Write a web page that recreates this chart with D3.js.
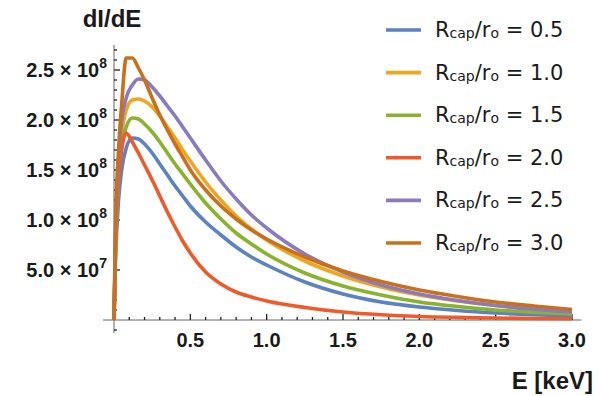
<!DOCTYPE html>
<html lang="en">
  <head>
    <meta charset="utf-8">
    <title>dI/dE spectra</title>
    <script src="https://d3js.org/d3.v7.min.js"></script>
    <style>
      body { margin: 0; background: #fff; }
      text { font-family: "Liberation Sans", Arial, sans-serif; fill: #1a1a1a; }
    </style>
  </head>
  <body>
    <div id="chart"></div>
    <script type="text/javascript">
      // energies in keV
      var energies = [0, 0.01, 0.03, 0.05, 0.08, 0.12, 0.16, 0.2, 0.25, 0.3, 0.35, 0.4, 0.45, 0.5, 0.6, 0.7, 0.8, 0.9, 1.0, 1.25, 1.5, 1.75, 2.0, 2.25, 2.5, 2.75, 3.0];

      // dI/dE values in units of 1e6
      var r05 = [0, 60, 120, 150, 172, 182, 181, 176, 167, 156, 145, 134, 124, 114, 98, 85, 73, 63, 55, 38, 26, 18, 13, 9.5, 7, 5.3, 4];
      var r10 = [0, 75, 150, 185, 210, 220, 221, 219, 213, 204, 193, 182, 170, 159, 138, 120, 104, 91, 80, 59, 44, 33, 25, 19, 14.5, 11, 8.5];
      var r15 = [0, 70, 140, 172, 193, 202, 201, 196, 188, 178, 167, 156, 146, 136, 117, 101, 87, 76, 66, 47, 34, 25, 18, 13.5, 10, 7.8, 6];
      var r20 = [0, 80, 140, 170, 187, 178, 167, 155, 140, 124, 108, 93, 79, 67, 48, 36, 28, 23, 19, 12.5, 8, 5.2, 3.5, 2.6, 2, 1.5, 1.2];
      var r25 = [0, 80, 160, 198, 222, 235, 241, 240, 233, 224, 214, 204, 193, 182, 160, 139, 121, 105, 92, 66, 48, 35, 26, 19.5, 14.5, 10.8, 8];
      var r30 = [0, 95, 170, 215, 262, 262, 252, 240, 222, 205, 190, 176, 163, 150, 130, 114, 101, 90, 81, 63, 49, 38.5, 30, 23.5, 18, 14, 10.5];

      var seriesLabels = ["0.5", "1.0", "1.5", "2.0", "2.5", "3.0"];
      var seriesValues = [r05, r10, r15, r20, r25, r30];
      var colors = ["#5b82c2", "#f0a51f", "#8ab32c", "#f05a2b", "#8a7bc0", "#c8701c"];

      var xMajor = [0.5, 1.0, 1.5, 2.0, 2.5, 3.0];
      var yMajor = [50, 100, 150, 200, 250];   // 1e6 units
      var yLabels = [["5.0", "7"], ["1.0", "8"], ["1.5", "8"], ["2.0", "8"], ["2.5", "8"]];

      var svg = d3.select("#chart").append("svg")
        .attr("width", 604)
        .attr("height", 396);

      // scales
      var xScale = d3.scaleLinear().domain([0, 3]).range([114, 572]);
      var yScale = d3.scaleLinear().domain([0, 250]).range([320, 70]);

      // axis lines (extend a bit past the data range like Mathematica)
      svg.append("line")
        .attr("x1", xScale(-0.072)).attr("x2", xScale(3.06))
        .attr("y1", yScale(0)).attr("y2", yScale(0))
        .attr("stroke", "#666").attr("stroke-width", 1);
      svg.append("line")
        .attr("x1", xScale(0)).attr("x2", xScale(0))
        .attr("y1", yScale(-13)).attr("y2", yScale(275))
        .attr("stroke", "#666").attr("stroke-width", 1);

      // x ticks, inward
      var xMinor = d3.range(1, 31).map((i) => i / 10).filter((v) => xMajor.indexOf(Math.round(v * 10) / 10) < 0);
      svg.append("g").selectAll("line").data(xMinor).enter().append("line")
        .attr("x1", (d) => xScale(d)).attr("x2", (d) => xScale(d))
        .attr("y1", yScale(0)).attr("y2", yScale(0) - 3)
        .attr("stroke", "#222").attr("stroke-width", 1.3);
      svg.append("g").selectAll("line").data(xMajor).enter().append("line")
        .attr("x1", (d) => xScale(d)).attr("x2", (d) => xScale(d))
        .attr("y1", yScale(0)).attr("y2", yScale(0) - 6)
        .attr("stroke", "#222").attr("stroke-width", 1.3);
      svg.append("g").selectAll("text").data(xMajor).enter().append("text")
        .attr("x", (d) => xScale(d))
        .attr("y", 347)
        .attr("text-anchor", "middle")
        .style("font-size", "20px")
        .style("font-weight", "bold")
        .text((d) => d.toFixed(1));

      // y ticks, inward
      var yMinor = d3.range(-1, 28).map((i) => i * 10).filter((v) => v % 50 !== 0);
      svg.append("g").selectAll("line").data(yMinor).enter().append("line")
        .attr("x1", xScale(0)).attr("x2", xScale(0) + 3)
        .attr("y1", (d) => yScale(d)).attr("y2", (d) => yScale(d))
        .attr("stroke", "#222").attr("stroke-width", 1.3);
      svg.append("g").selectAll("line").data(yMajor).enter().append("line")
        .attr("x1", xScale(0)).attr("x2", xScale(0) + 6)
        .attr("y1", (d) => yScale(d)).attr("y2", (d) => yScale(d))
        .attr("stroke", "#222").attr("stroke-width", 1.3);

      var yLab = svg.append("g").selectAll("text").data(yMajor).enter().append("text")
        .attr("x", 107)
        .attr("y", (d) => yScale(d) + 7)
        .attr("text-anchor", "end")
        .style("font-size", "20px")
        .style("font-weight", "bold");
      yLab.append("tspan").text((d, i) => yLabels[i][0] + " \u00d7 10");
      yLab.append("tspan").attr("dy", -9).style("font-size", "14px").text((d, i) => yLabels[i][1]);

      // curves
      var line = d3.line()
        .x((d) => xScale(d[0]))
        .y((d) => yScale(d[1]))
        .curve(d3.curveMonotoneX);

      seriesValues.forEach(function(vals, i) {
        var pts = energies.map((e, j) => [e, vals[j]]);
        svg.append("path")
          .datum(pts)
          .attr("d", line)
          .attr("fill", "none")
          .attr("stroke", colors[i])
          .attr("stroke-width", 3.6)
          .attr("stroke-linejoin", "round");
      });

      // axis titles
      svg.append("text")
        .attr("x", 112).attr("y", 27)
        .attr("text-anchor", "middle")
        .style("font-size", "24px")
        .style("font-weight", "bold")
        .text("dI/dE");
      svg.append("text")
        .attr("x", 593).attr("y", 389)
        .attr("text-anchor", "end")
        .style("font-size", "24px")
        .style("font-weight", "bold")
        .text("E [keV]");

      // legend
      var legend = svg.append("g").selectAll("g").data(seriesLabels).enter().append("g")
        .attr("transform", (d, i) => "translate(386," + (30 + i * 42.6) + ")");
      legend.append("line")
        .attr("x1", 0).attr("x2", 35).attr("y1", 0).attr("y2", 0)
        .attr("stroke", (d, i) => colors[i])
        .attr("stroke-width", 3.6);
      var lt = legend.append("text")
        .attr("x", 49).attr("y", 7)
        .style("font-family", "'DejaVu Sans', sans-serif")
        .style("font-size", "21px");
      lt.append("tspan").text("R");
      lt.append("tspan").style("font-size", "14px").attr("dy", 1).text("cap");
      lt.append("tspan").attr("dy", -1).text("/r");
      lt.append("tspan").style("font-size", "14px").attr("dy", 1).text("o");
      lt.append("tspan").attr("dy", -1).text((d) => " = " + d);
    </script>
  </body>
</html>
